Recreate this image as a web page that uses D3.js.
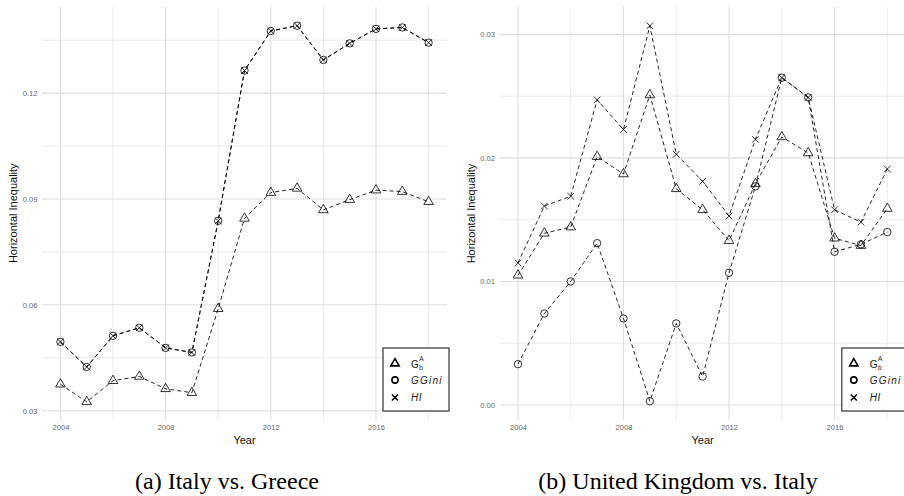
<!DOCTYPE html>
<html>
<head>
<meta charset="utf-8">
<script src="https://cdn.jsdelivr.net/npm/d3@7/dist/d3.min.js"></script>
<style>
  html, body { margin: 0; padding: 0; background: #fff; }
  svg { display: block; }
</style>
</head>
<body>
<svg id="chart" width="904" height="496"></svg>
<script>
// Years shared by both panels
const years = [2004, 2005, 2006, 2007, 2008, 2009, 2010, 2011, 2012, 2013, 2014, 2015, 2016, 2017, 2018];

// (a) Italy vs. Greece
const italyGreeceGbA   = [0.0375, 0.0325, 0.0385, 0.0397, 0.0362, 0.0351, 0.0589, 0.0845, 0.0918, 0.0930, 0.0869, 0.0898, 0.0925, 0.0921, 0.0892];
const italyGreeceGGini = [0.0495, 0.0424, 0.0512, 0.0535, 0.0478, 0.0465, 0.0838, 0.1264, 0.1376, 0.1391, 0.1294, 0.1341, 0.1382, 0.1386, 0.1343];
const italyGreeceHI    = [0.0495, 0.0424, 0.0512, 0.0535, 0.0478, 0.0465, 0.0838, 0.1264, 0.1376, 0.1391, 0.1294, 0.1341, 0.1382, 0.1386, 0.1343];

// (b) United Kingdom vs. Italy
const ukItalyGbA   = [0.0105, 0.0139, 0.0144, 0.0201, 0.0187, 0.0251, 0.0175, 0.0158, 0.0133, 0.0179, 0.0217, 0.0204, 0.0135, 0.0129, 0.0159];
const ukItalyGGini = [0.0033, 0.0074, 0.0100, 0.0131, 0.0070, 0.0003, 0.0066, 0.0023, 0.0107, 0.0177, 0.0265, 0.0249, 0.0124, 0.0130, 0.0140];
const ukItalyHI    = [0.0115, 0.0161, 0.0169, 0.0247, 0.0223, 0.0307, 0.0203, 0.0181, 0.0153, 0.0215, 0.0265, 0.0249, 0.0158, 0.0148, 0.0191];

// Axis breaks
const xMajorTicks = [2004, 2008, 2012, 2016];
const xMinorTicks = [2006, 2010, 2014, 2018];
const italyGreeceYMajor = [0.03, 0.06, 0.09, 0.12];
const italyGreeceYMinor = [0.045, 0.075, 0.105, 0.135];
const ukItalyYMajor = [0.00, 0.01, 0.02, 0.03];
const ukItalyYMinor = [0.005, 0.015, 0.025];

const captions = ["(a) Italy vs. Greece", "(b) United Kingdom vs. Italy"];

const svg = d3.select("#chart");
const sans = "'Liberation Sans', Arial, Helvetica, sans-serif";

// Symbol renderers (hollow, like R's pch 2 / 1 / 4)
function drawTriangle(g, x, y, size, sw) {
  g.append("path")
    .attr("d", d3.symbol(d3.symbolTriangle, size)())
    .attr("transform", `translate(${x},${y})`)
    .attr("fill", "none").attr("stroke", "#000").attr("stroke-width", sw);
}
function drawCircle(g, x, y, r, sw) {
  g.append("circle").attr("cx", x).attr("cy", y).attr("r", r)
    .attr("fill", "none").attr("stroke", "#000").attr("stroke-width", sw);
}
function drawCross(g, x, y, h, sw) {
  g.append("path")
    .attr("d", `M${x - h},${y - h}L${x + h},${y + h}M${x - h},${y + h}L${x + h},${y - h}`)
    .attr("fill", "none").attr("stroke", "#000").attr("stroke-width", sw);
}

function panel(opts) {
  const { left, right, top, bottom, yDomain, yMajor, yMinor, series, caption, titleX, captionX } = opts;
  const g = svg.append("g");

  const x = d3.scaleLinear().domain([2003.3, 2018.7]).range([left, right]);
  const y = d3.scaleLinear().domain(yDomain).range([bottom, top]);

  // minor gridlines
  const grid = g.append("g");
  grid.selectAll(".hmin").data(yMinor).join("line")
    .attr("x1", left).attr("x2", right)
    .attr("y1", d => y(d)).attr("y2", d => y(d))
    .attr("stroke", "#e6e6e6").attr("stroke-width", 0.8);
  grid.selectAll(".vmin").data(xMinorTicks).join("line")
    .attr("x1", d => x(d)).attr("x2", d => x(d))
    .attr("y1", top).attr("y2", bottom)
    .attr("stroke", "#e6e6e6").attr("stroke-width", 0.8);
  // major gridlines
  grid.selectAll(".hmaj").data(yMajor).join("line")
    .attr("x1", left).attr("x2", right)
    .attr("y1", d => y(d)).attr("y2", d => y(d))
    .attr("stroke", "#dedede").attr("stroke-width", 1.1);
  grid.selectAll(".vmaj").data(xMajorTicks).join("line")
    .attr("x1", d => x(d)).attr("x2", d => x(d))
    .attr("y1", top).attr("y2", bottom)
    .attr("stroke", "#dedede").attr("stroke-width", 1.1);

  // axes (no ticks or domain lines, labels only)
  const yAxis = g.append("g").attr("transform", `translate(${left},0)`)
    .call(d3.axisLeft(y).tickValues(yMajor).tickSize(0).tickPadding(4.5).tickFormat(d3.format(".2f")));
  const xAxis = g.append("g").attr("transform", `translate(0,${bottom})`)
    .call(d3.axisBottom(x).tickValues(xMajorTicks).tickSize(0).tickPadding(5).tickFormat(d3.format("d")));
  [yAxis, xAxis].forEach(a => {
    a.select(".domain").remove();
    a.selectAll("text").attr("font-family", sans).attr("font-size", 7.6).attr("fill", "#666");
  });

  // axis titles
  g.append("text").attr("x", (left + right) / 2).attr("y", 444)
    .attr("text-anchor", "middle").attr("font-family", sans).attr("font-size", 11).attr("fill", "#111")
    .text("Year");
  g.append("text")
    .attr("transform", `translate(${titleX},${(top + bottom) / 2}) rotate(-90)`)
    .attr("text-anchor", "middle").attr("font-family", sans).attr("font-size", 11).attr("fill", "#111")
    .text("Horizontal Inequality");

  // dashed lines then hollow points
  const line = d3.line().x((d, i) => x(years[i])).y(d => y(d));
  const marks = g.append("g");
  series.forEach(s => {
    marks.append("path").datum(s.values).attr("d", line)
      .attr("fill", "none").attr("stroke", "#000").attr("stroke-width", 0.85)
      .attr("stroke-dasharray", "4,3");
  });
  series.forEach(s => {
    s.values.forEach((v, i) => {
      const px = x(years[i]), py = y(v);
      if (s.shape === "triangle") drawTriangle(marks, px, py, 40, 0.8);
      else if (s.shape === "circle") drawCircle(marks, px, py, 3.7, 0.8);
      else drawCross(marks, px, py, 3.3, 0.8);
    });
  });

  // legend box in the bottom-right corner of the panel
  const lx = right - 64, ly = 348, lw = 66, lh = 63;
  const lg = g.append("g");
  lg.append("rect").attr("x", lx).attr("y", ly).attr("width", lw).attr("height", lh)
    .attr("fill", "#fff").attr("stroke", "#333").attr("stroke-width", 1.2);
  const sx = lx + 12, tx = lx + 28;
  drawTriangle(lg, sx, ly + 15.5, 30, 1.6);
  drawCircle(lg, sx, ly + 32, 3.1, 1.6);
  drawCross(lg, sx, ly + 49.5, 3, 1.6);
  // G with subscript b and superscript A
  lg.append("text").attr("x", tx).attr("y", ly + 19.5).attr("font-family", sans).attr("font-size", 10).attr("fill", "#222").text("G");
  lg.append("text").attr("x", tx + 8.3).attr("y", ly + 13).attr("font-family", sans).attr("font-size", 6.5).attr("fill", "#222").text("A");
  lg.append("text").attr("x", tx + 8.3).attr("y", ly + 21.5).attr("font-family", sans).attr("font-size", 6.5).attr("fill", "#222").text("b");
  lg.append("text").attr("x", tx).attr("y", ly + 35.5).attr("font-family", sans).attr("font-size", 10)
    .attr("font-style", "italic").attr("letter-spacing", 1.2).attr("fill", "#222").text("GGini");
  lg.append("text").attr("x", tx).attr("y", ly + 53).attr("font-family", sans).attr("font-size", 10)
    .attr("font-style", "italic").attr("letter-spacing", 0.6).attr("fill", "#222").text("HI");

  // caption below the panel
  svg.append("text").attr("x", captionX).attr("y", 489)
    .attr("text-anchor", "middle").attr("font-family", "'Liberation Serif', 'Times New Roman', serif")
    .attr("font-size", 24).attr("fill", "#000").text(caption);
}

panel({
  left: 42, right: 447, top: 7, bottom: 419.5,
  yDomain: [0.0275, 0.1444], yMajor: italyGreeceYMajor, yMinor: italyGreeceYMinor,
  series: [
    { values: italyGreeceGbA, shape: "triangle" },
    { values: italyGreeceGGini, shape: "circle" },
    { values: italyGreeceHI, shape: "cross" }
  ],
  caption: captions[0], titleX: 16.5, captionX: 227
});

panel({
  left: 499.5, right: 905.8, top: 7, bottom: 420,
  yDomain: [-0.00122, 0.03222], yMajor: ukItalyYMajor, yMinor: ukItalyYMinor,
  series: [
    { values: ukItalyGbA, shape: "triangle" },
    { values: ukItalyGGini, shape: "circle" },
    { values: ukItalyHI, shape: "cross" }
  ],
  caption: captions[1], titleX: 474.5, captionX: 678
});
</script>
</body>
</html>
